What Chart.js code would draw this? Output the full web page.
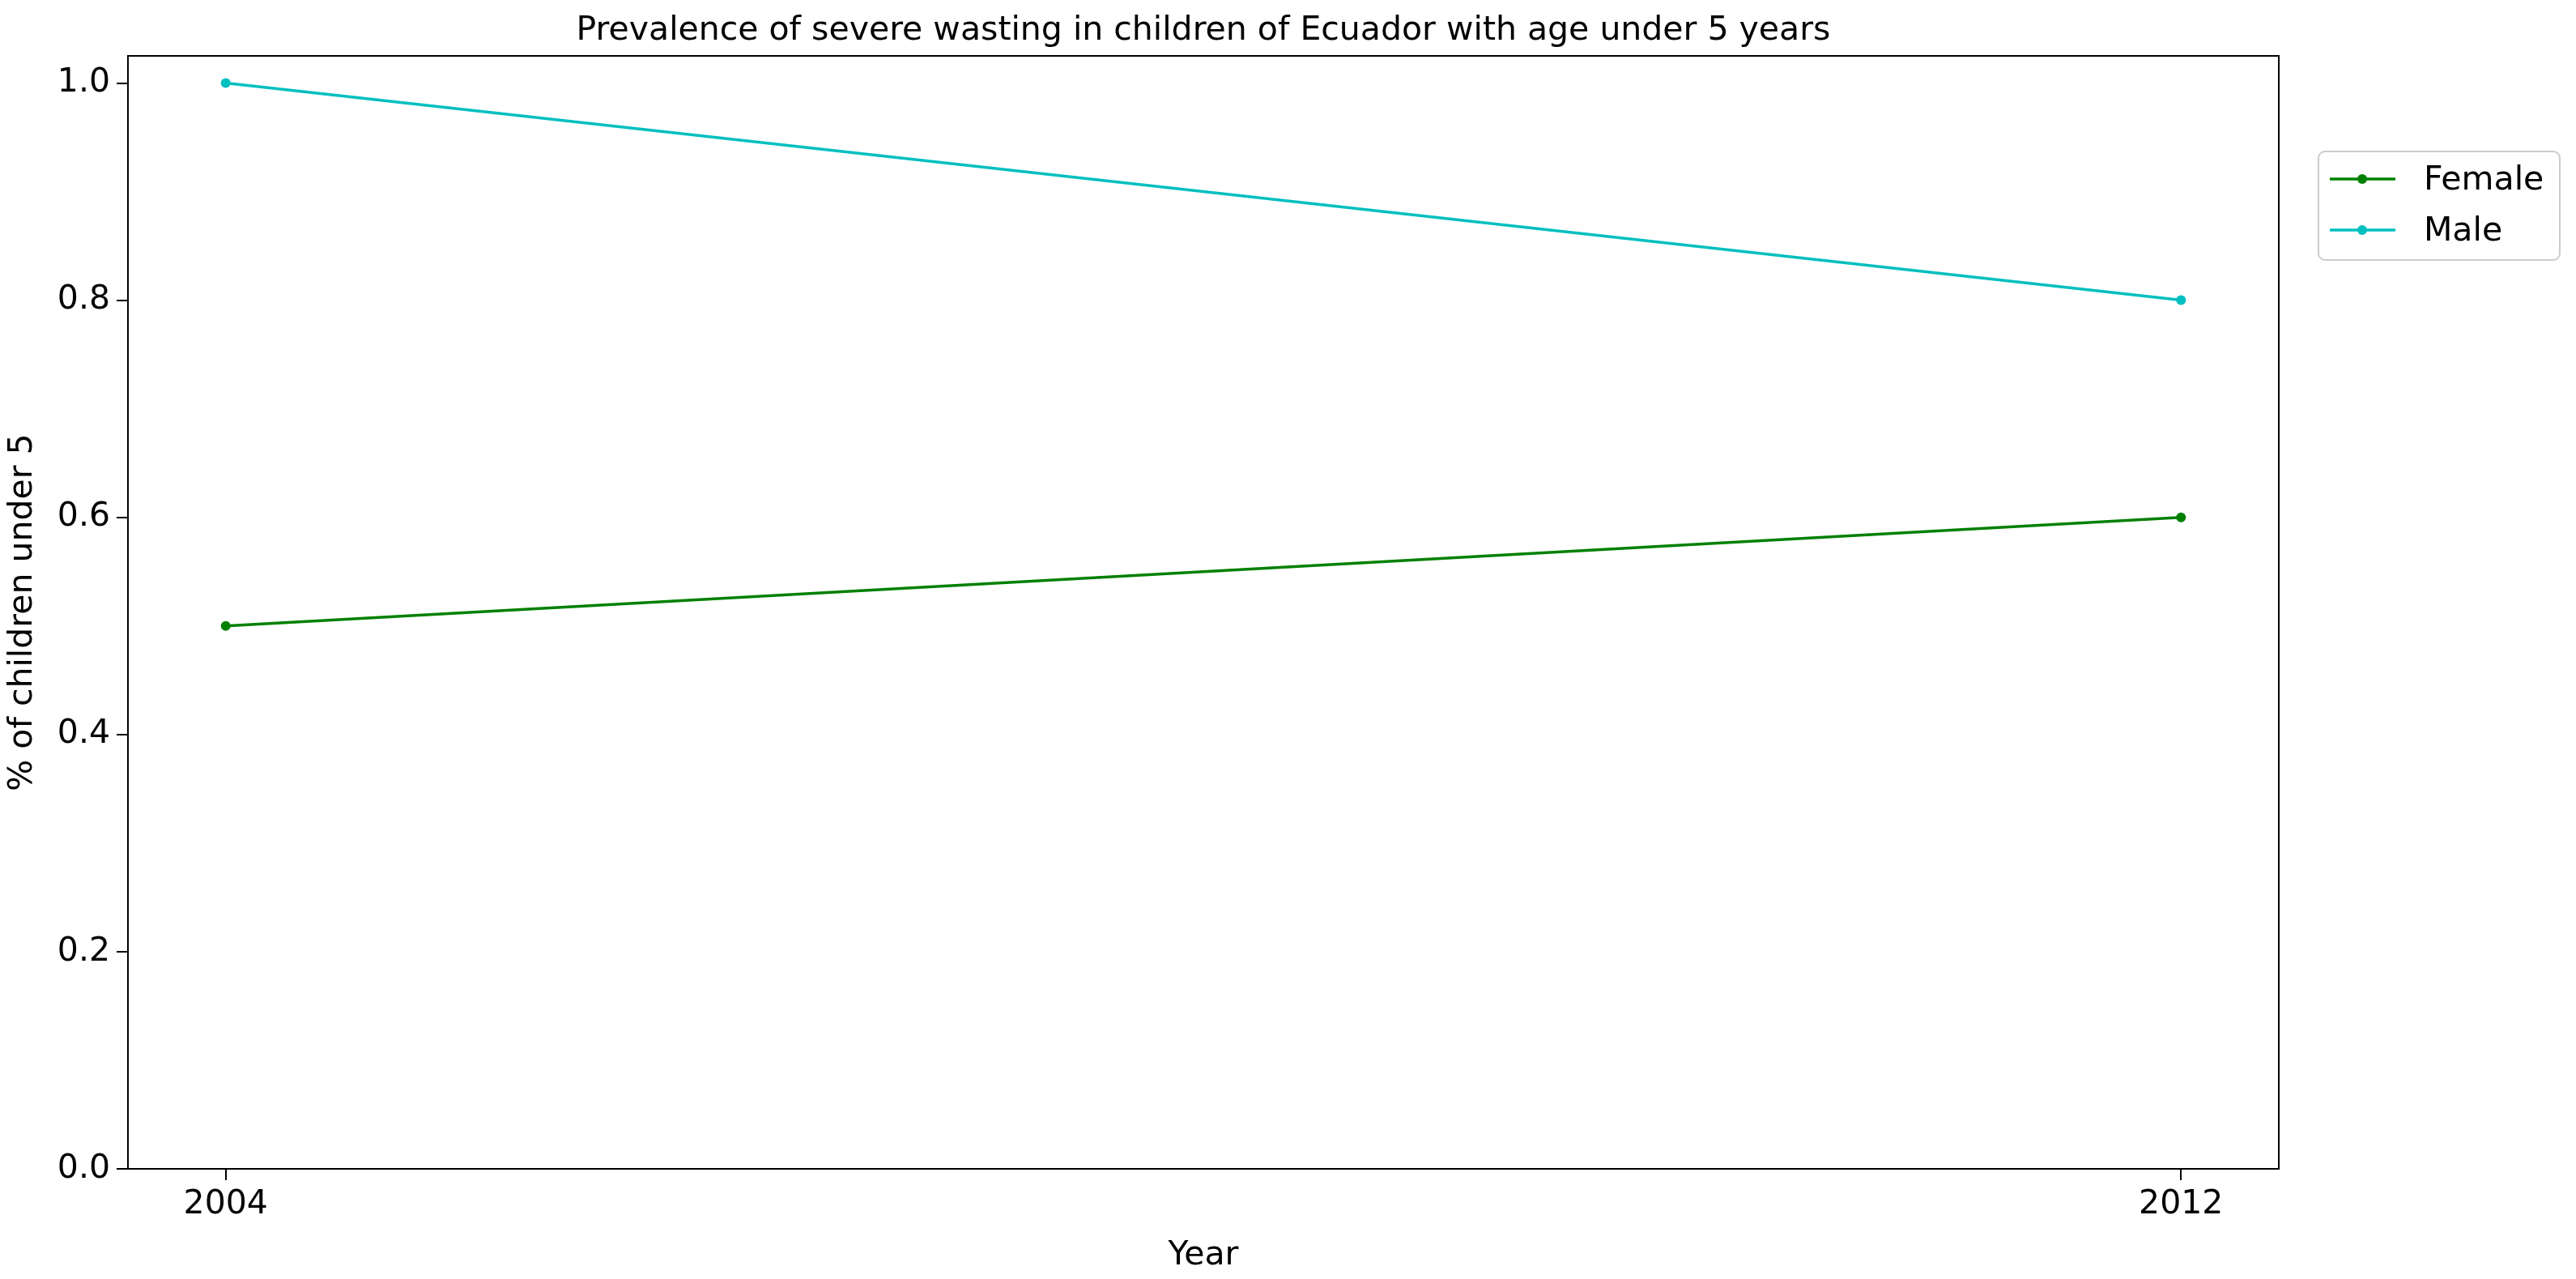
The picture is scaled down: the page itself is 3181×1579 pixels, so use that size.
<!DOCTYPE html>
<html>
<head>
<meta charset="utf-8">
<script src="https://cdn.jsdelivr.net/npm/chart.js@4"></script>
<style>
  html, body { margin: 0; padding: 0; background: #fff; }
  #wrap { width: 3181px; height: 1579px; }
</style>
</head>
<body>
<div id="wrap"><canvas id="chart" width="3181" height="1579"></canvas></div>
<script>
// --- Data ---
const years = [2004, 2012];
const femaleValues = [0.5, 0.6];
const maleValues = [1.0, 0.8];
const yTicks = [0, 0.2, 0.4, 0.6, 0.8, 1.0];
const titleText = "Prevalence of severe wasting in children of Ecuador with age under 5 years";

const FONT = "'DejaVu Sans', sans-serif";
const femaleColor = "#008000";
const maleColor = "#00bfbf";

// --- Frame, title and legend drawn by hand (matplotlib look) ---
const framePlugin = {
    id: "frame",
    afterDraw(chart) {
        const { ctx, chartArea: a } = chart;
        ctx.save();
        ctx.strokeStyle = "#000";
        ctx.lineWidth = 2;
        ctx.strokeRect(a.left, a.top, a.right - a.left, a.bottom - a.top);

        ctx.fillStyle = "#000";
        ctx.font = `41px ${FONT}`;
        ctx.textAlign = "center";
        ctx.textBaseline = "bottom";
        ctx.fillText(titleText, (a.left + a.right) / 2, a.top - 10);

        // legend
        ctx.fillStyle = "#fff";
        ctx.strokeStyle = "#cccccc";
        ctx.lineWidth = 2;
        ctx.beginPath();
        ctx.roundRect(2863, 187, 298, 134, 8);
        ctx.fill();
        ctx.stroke();
        const items = [["Female", femaleColor, 221], ["Male", maleColor, 284]];
        ctx.font = `41px ${FONT}`;
        ctx.textAlign = "left";
        ctx.textBaseline = "middle";
        items.forEach(([label, color, y]) => {
            ctx.strokeStyle = color;
            ctx.lineWidth = 3.5;
            ctx.beginPath();
            ctx.moveTo(2877, y);
            ctx.lineTo(2958, y);
            ctx.stroke();
            ctx.fillStyle = color;
            ctx.beginPath();
            ctx.arc(2917, y, 6, 0, Math.PI * 2);
            ctx.fill();
            ctx.fillStyle = "#000";
            ctx.fillText(label, 2993, y + 2);
        });
        ctx.restore();
    }
};

const makeSet = (label, values, color) => ({
    label,
    data: years.map((x, i) => ({ x, y: values[i] })),
    borderColor: color,
    backgroundColor: color,
    borderWidth: 3.5,
    pointRadius: 6,
    pointBorderWidth: 0,
    tension: 0
});

new Chart(document.getElementById("chart"), {
    type: "line",
    data: {
        datasets: [
            makeSet("Female", femaleValues, femaleColor),
            makeSet("Male", maleValues, maleColor)
        ]
    },
    options: {
        responsive: false,
        animation: false,
        devicePixelRatio: 1,
        layout: { padding: { top: 69, right: 367, left: 0, bottom: 0 } },
        plugins: { legend: { display: false }, tooltip: { enabled: false } },
        scales: {
            x: {
                type: "linear",
                min: 2003.6,
                max: 2012.4,
                afterBuildTicks: s => { s.ticks = years.map(v => ({ value: v })); },
                afterFit: s => { s.height = 136; },
                grid: { drawOnChartArea: false, tickLength: 14, color: "#000", lineWidth: 2 },
                border: { display: false },
                ticks: { color: "#000", font: { family: FONT, size: 41 }, padding: 6, callback: v => String(v) },
                title: { display: true, text: "Year", color: "#000", font: { family: FONT, size: 41 }, padding: { top: 4 } }
            },
            y: {
                min: 0,
                max: 1.025,
                afterBuildTicks: s => { s.ticks = yTicks.map(v => ({ value: v })); },
                afterFit: s => { s.width = 158; },
                grid: { drawOnChartArea: false, tickLength: 14, color: "#000", lineWidth: 2 },
                border: { display: false },
                ticks: { color: "#000", font: { family: FONT, size: 41 }, padding: 8, callback: v => v.toFixed(1) },
                title: { display: true, text: "% of children under 5", color: "#000", font: { family: FONT, size: 41 }, padding: { bottom: 6 } }
            }
        }
    },
    plugins: [framePlugin]
});
</script>
</body>
</html>
